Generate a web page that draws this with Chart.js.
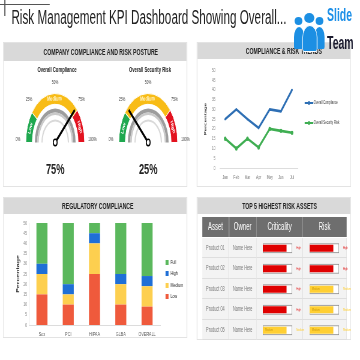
<!DOCTYPE html>
<html>
<head>
<meta charset="utf-8">
<script src="https://cdn.jsdelivr.net/npm/chart.js@4.4.1/dist/chart.umd.min.js"></script>
<style>
  html, body { margin: 0; padding: 0; background: #fff; overflow: hidden; }
  /* the slide is laid out wide and squeezed horizontally, like the source picture */
  #stage { position: absolute; left: 0; top: 0; width: 600px; height: 360px; transform: scaleX(0.6); transform-origin: 0 0;
           font-family: "Liberation Sans", Arial, sans-serif; color: #222; }
  .panel { position: absolute; background: #fff; border: 1px solid #e3e3e3; box-sizing: border-box; }
  .head { position: absolute; left: 0; right: 0; top: 0; background: #d9d9d9; font-weight: bold; font-size: 8.6px; }
  .head span, .lbl { position: absolute; white-space: nowrap; transform: translate(-50%, -50%); }
  .head span { top: 50%; }
  .box { position: absolute; }
  .cell { position: absolute; box-sizing: border-box; display: flex; align-items: center; justify-content: center; white-space: nowrap; }
</style>
</head>
<body>
<div id="stage">
  <div class="box" style="left:0;top:4px;width:83px;height:1px;background:#555"></div>
  <div class="box" style="left:7px;top:0;width:1.7px;height:16px;background:#555"></div>
  <div class="box" style="left:19px;top:6px;font-size:19.5px;white-space:nowrap">Risk Management KPI Dashboard Showing Overall...</div>

  <div class="panel" style="left:5px;top:42px;width:307px;height:145px">
    <div class="head" style="height:18px"><span style="left:162px">COMPANY COMPLIANCE AND RISK POSTURE</span></div>
  </div>
  <div class="panel" style="left:328px;top:42px;width:257px;height:145px">
    <div class="head" style="height:16px"><span style="left:144px">COMPLIANCE &amp; RISK TRENDS</span></div>
  </div>
  <div class="panel" style="left:5px;top:197px;width:307px;height:141px">
    <div class="head" style="height:16px"><span style="left:157px">REGULATORY COMPLIANCE</span></div>
  </div>
  <div class="panel" style="left:328px;top:197px;width:257px;height:143px">
    <div class="head" style="height:16px"><span style="left:137px">TOP 5 HIGHEST RISK ASSETS</span></div>
  </div>

  <!-- logo -->
  <div class="box" style="left:490px;top:27px;width:17px;height:22px;background:#1c8fe3;border-radius:50% 50% 12% 12%/45% 45% 10% 10%"></div>
  <div class="box" style="left:524px;top:27px;width:17px;height:22px;background:#1c8fe3;border-radius:50% 50% 12% 12%/45% 45% 10% 10%"></div>
  <div class="box" style="left:504px;top:25px;width:23px;height:25px;background:#1c8fe3;border:1.5px solid #fff;border-radius:50% 50% 12% 12%/45% 45% 10% 10%"></div>
  <div class="box" style="left:491px;top:17px;width:13px;height:8px;background:#1c8fe3;border-radius:50%"></div>
  <div class="box" style="left:526px;top:17px;width:13px;height:8px;background:#1c8fe3;border-radius:50%"></div>
  <div class="box" style="left:507px;top:13px;width:17px;height:10px;background:#1c8fe3;border-radius:50%"></div>
  <div class="box" style="left:545px;top:5px;font-size:17.5px;font-weight:bold;color:#1e90e8">Slide</div>
  <div class="box" style="left:545px;top:33px;font-size:17.5px;font-weight:bold;color:#1b1b2f">Team</div>

  <div id="gaugeArea"></div>
  <div class="box" style="left:335px;top:60px;width:170px;height:122px"><canvas id="trend"></canvas></div>
  <div id="trendLegend"></div>
  <div class="box" style="left:22px;top:215px;width:250px;height:123px"><canvas id="regulatory"></canvas></div>
  <div id="barLegend"></div>
  <div id="table"></div>
  <div class="box" style="left:437px;top:237.5px;width:75px;height:102.5px"><canvas id="critBars"></canvas></div>
  <div class="box" style="left:515px;top:237.5px;width:70px;height:102.5px"><canvas id="riskBars"></canvas></div>
</div>

<script>
// gauges
const gaugeNames = ['Overall Compliance', 'Overall Security Risk'];
const gaugeValues = [75, 25];
const gaugeBandLabels = ['Low', 'Medium', 'High'];
const gaugeBandSizes = [21, 56, 23];
const gaugeTicks = ['0%', '25%', '50%', '75%', '100%'];

// trends
const months = ['Jan', 'Feb', 'Mar', 'Apr', 'May', 'Jun', 'Jul'];
const overallCompliance = [25, 30, 25, 20.5, 30, 29, 40];
const overallSecurityRisk = [15, 10, 15, 10.5, 20, 19, 18];
const percentTicks = [0, 5, 10, 15, 20, 25, 30, 35, 40, 45, 50];

// regulatory compliance (stacked)
const regulations = ['Sox', 'PCI', 'HIPAA', 'GLBA', 'OVERALL'];
const lowPart = [15, 10, 25, 10, 9];
const mediumPart = [10, 5, 15, 10, 10];
const highPart = [5, 5, 5, 5, 5];
const fullPart = [20, 30, 5, 25, 26];

// top 5 assets
const assets = ['Product 01', 'Product 02', 'Product 03', 'Product 04', 'Product 05'];
const owners = ['Name Here', 'Name Here', 'Name Here', 'Name Here', 'Name Here'];
const criticalityLevel = ['High', 'High', 'High', 'High', 'Medium'];
const criticalityScore = [80, 80, 80, 80, 80];
const riskLevel = ['High', 'High', 'Medium', 'Medium', 'Medium'];
const riskScore = [80, 80, 80, 80, 80];
const scoreMax = 100;

const FONT = '"Liberation Sans", Arial, sans-serif';
Chart.defaults.font.family = FONT;
Chart.defaults.animation = false;

const levelColor = { High: '#e00000', Medium: '#ffcf33' };
const stage = document.getElementById('stage');
function put(parent, html) { parent.insertAdjacentHTML('beforeend', html); }

// ---------- gauges ----------
const gaugePlugin = {
  id: 'gauge',
  afterDatasetsDraw(chart, args, opts) {
    const ctx = chart.ctx;
    const arcs = chart.getDatasetMeta(0).data;
    const { x: cx, y: cy, outerRadius: R, innerRadius: r } = arcs[0];
    // grey inner rings
    [[30, 34, '#9d9d9d'], [27.5, 30, '#cacaca'], [21, 23, '#d9d9d9']].forEach(([a, b, c]) => {
      ctx.beginPath();
      ctx.arc(cx, cy, b, Math.PI, 2 * Math.PI);
      ctx.arc(cx, cy, a, 2 * Math.PI, Math.PI, true);
      ctx.closePath();
      ctx.fillStyle = c;
      ctx.fill();
    });
    // band names
    arcs.forEach((arc, i) => {
      const mid = (arc.startAngle + arc.endAngle) / 2;
      const rr = (R + r) / 2;
      ctx.save();
      ctx.translate(cx + rr * Math.cos(mid), cy + rr * Math.sin(mid));
      ctx.rotate(mid + Math.PI / 2);
      ctx.font = 'bold ' + (i === 1 ? 6.5 : 6) + 'px ' + FONT;
      ctx.fillStyle = i === 1 ? '#fff4c8' : '#ffffff';
      ctx.textAlign = 'center';
      ctx.textBaseline = 'middle';
      ctx.fillText(gaugeBandLabels[i], 0, 0);
      ctx.restore();
    });
    // tick labels
    ctx.font = '5.5px ' + FONT;
    ctx.fillStyle = '#444';
    ctx.textAlign = 'center';
    ctx.textBaseline = 'middle';
    gaugeTicks.forEach((t, i) => {
      const a = Math.PI + Math.PI * i / (gaugeTicks.length - 1);
      ctx.fillText(t, cx + 62 * Math.cos(a), cy + 57 * Math.sin(a) - 3);
    });
    // needle
    const a = Math.PI + Math.PI * opts.value / 100;
    ctx.beginPath();
    ctx.moveTo(cx, cy);
    ctx.lineTo(cx + (R - 3) * Math.cos(a), cy + (R - 3) * Math.sin(a));
    ctx.strokeStyle = '#000';
    ctx.lineWidth = 2.6;
    ctx.stroke();
    ctx.beginPath();
    ctx.arc(cx, cy, 3.2, 0, 2 * Math.PI);
    ctx.fillStyle = '#fff';
    ctx.fill();
    ctx.lineWidth = 1.6;
    ctx.stroke();
  }
};

const gaugeCenters = [92, 247];
const gaugeArea = document.getElementById('gaugeArea');
gaugeNames.forEach((name, i) => {
  const cx = gaugeCenters[i];
  put(gaugeArea, `<div class="lbl" style="left:${cx + 3}px;top:69px;font-size:7px;font-weight:bold">${name}</div>`);
  put(gaugeArea, `<div class="lbl" style="left:${cx}px;top:169px;font-size:15.5px;font-weight:bold">${gaugeValues[i]}%</div>`);
  put(gaugeArea, `<div class="box" style="left:${cx - 78}px;top:70px;width:156px;height:88px"><canvas id="gauge${i}"></canvas></div>`);
});
gaugeNames.forEach((name, i) => {
  new Chart(document.getElementById('gauge' + i), {
    type: 'doughnut',
    data: {
      labels: gaugeBandLabels,
      datasets: [{ data: gaugeBandSizes, backgroundColor: ['#1fa84f', '#f8bc16', '#e3121f'], borderColor: '#fff', borderWidth: 1 }]
    },
    options: {
      responsive: true, maintainAspectRatio: false,
      rotation: -90, circumference: 180, cutout: '78%',
      layout: { padding: { left: 28, right: 28, top: 23, bottom: 15 } },
      plugins: { legend: { display: false }, tooltip: { enabled: false }, gauge: { value: gaugeValues[i] } }
    },
    plugins: [gaugePlugin]
  });
});

// ---------- trend lines ----------
new Chart(document.getElementById('trend'), {
  type: 'line',
  data: {
    labels: months,
    datasets: [
      { label: 'Overall Compliance', data: overallCompliance, borderColor: '#2e6fb4', backgroundColor: '#2e6fb4',
        borderWidth: 2.6, pointRadius: 1.2, pointBorderWidth: 0, tension: 0 },
      { label: 'Overall Security Risk', data: overallSecurityRisk, borderColor: '#3fae52', backgroundColor: '#3fae52',
        borderWidth: 2.6, pointRadius: 2.2, pointBorderWidth: 0, tension: 0 }
    ]
  },
  options: {
    responsive: true, maintainAspectRatio: false,
    layout: { padding: { top: 7, right: 9, left: 0, bottom: 0 } },
    plugins: { legend: { display: false }, tooltip: { enabled: false } },
    scales: {
      x: {
        offset: true,
        grid: { display: false, drawTicks: false },
        border: { color: '#dddddd' },
        ticks: { font: { size: 5.5 }, color: '#777', padding: 6 },
        afterFit(s) { s.height = 14; }
      },
      y: {
        min: 0, max: 50,
        afterBuildTicks(s) { s.ticks = percentTicks.map(v => ({ value: v })); },
        grid: { display: false, drawTicks: false },
        border: { display: false },
        ticks: { font: { size: 5.5 }, color: '#888', padding: 7 },
        title: { display: true, text: 'Percentage', font: { size: 6, weight: 'bold' }, color: '#333', padding: { top: 4, bottom: 0 } },
        afterFit(s) { s.width = 31; }
      }
    }
  }
});
const trendLegend = document.getElementById('trendLegend');
[['Overall Compliance', '#2e6fb4', 103], ['Overall Security Risk', '#3fae52', 123]].forEach(([t, c, y]) => {
  put(trendLegend, `<div class="box" style="left:508px;top:${y - 1}px;width:14px;height:2px;background:${c}"></div>`);
  put(trendLegend, `<div class="box" style="left:513px;top:${y - 2}px;width:4px;height:4px;border-radius:50%;background:${c}"></div>`);
  put(trendLegend, `<div class="box" style="left:523px;top:${y - 3}px;font-size:4.6px;color:#333;white-space:nowrap">${t}</div>`);
});

// ---------- regulatory stacked bars ----------
const partColors = { Low: '#ef5a3c', Medium: '#fdcf4f', High: '#1f6fd6', Full: '#5bb85d' };
new Chart(document.getElementById('regulatory'), {
  type: 'bar',
  data: {
    labels: regulations,
    datasets: [
      { label: 'Low', data: lowPart, backgroundColor: partColors.Low },
      { label: 'Medium', data: mediumPart, backgroundColor: partColors.Medium },
      { label: 'High', data: highPart, backgroundColor: partColors.High },
      { label: 'Full', data: fullPart, backgroundColor: partColors.Full }
    ]
  },
  options: {
    responsive: true, maintainAspectRatio: false,
    datasets: { bar: { barPercentage: 0.42, categoryPercentage: 1 } },
    layout: { padding: { top: 8, right: 5, left: 0, bottom: 0 } },
    plugins: { legend: { display: false }, tooltip: { enabled: false } },
    scales: {
      x: {
        stacked: true,
        grid: { display: false, drawTicks: false },
        border: { color: '#dcdcdc' },
        ticks: { font: { size: 6.2 }, color: '#555', padding: 6 },
        afterFit(s) { s.height = 13; }
      },
      y: {
        stacked: true, min: 0, max: 50,
        afterBuildTicks(s) { s.ticks = percentTicks.map(v => ({ value: v })); },
        grid: { display: false, drawTicks: false },
        border: { color: '#e6e6e6' },
        ticks: { font: { size: 5.5 }, color: '#888', padding: 3 },
        title: { display: true, text: 'Percentage', font: { size: 7, weight: 'bold' }, color: '#333', padding: { top: 4, bottom: 0 } },
        afterFit(s) { s.width = 26; }
      }
    }
  }
});
const barLegend = document.getElementById('barLegend');
[['Full', 262], ['High', 273.5], ['Medium', 285], ['Low', 296.5]].forEach(([t, y]) => {
  put(barLegend, `<div class="box" style="left:276px;top:${y - 2.5}px;width:5px;height:5px;background:${partColors[t]}"></div>`);
  put(barLegend, `<div class="box" style="left:284px;top:${y - 3.5}px;font-size:6px;color:#222">${t}</div>`);
});

// ---------- top 5 assets table ----------
const table = document.getElementById('table');
const colX = [337, 382, 428, 505, 578];
['Asset', 'Owner', 'Criticality', 'Risk'].forEach((h, j) => {
  put(table, `<div class="cell" style="left:${colX[j]}px;top:217px;width:${colX[j + 1] - colX[j]}px;height:19.5px;background:#6e6e6e;color:#fff;font-size:10px;border-right:1px solid #9a9a9a">${h}</div>`);
});
assets.forEach((a, i) => {
  const top = 237.5 + i * 20.5;
  [a, owners[i], '', ''].forEach((txt, j) => {
    put(table, `<div class="cell" style="left:${colX[j]}px;top:${top}px;width:${colX[j + 1] - colX[j]}px;height:20.5px;background:#f3f3f3;border-right:1px solid #dedede;border-bottom:1px solid #dedede;color:#777;font-size:6.4px">${txt}</div>`);
  });
});

const levelPlugin = {
  id: 'levels',
  afterDatasetsDraw(chart, args, opts) {
    const ctx = chart.ctx;
    const meta = chart.getDatasetMeta(0);
    ctx.font = '3.6px ' + FONT;
    ctx.textBaseline = 'middle';
    meta.data.forEach((bar, i) => {
      const lvl = opts.levels[i];
      ctx.fillStyle = levelColor[lvl];
      ctx.fillText(lvl, chart.chartArea.right + opts.gap, bar.y);
      if (lvl === 'Medium') {
        ctx.fillStyle = '#c99a10';
        ctx.fillText('Medium', chart.chartArea.left + 4, bar.y);
      }
    });
  }
};
function scoreBars(id, scores, levels, padRight, gap) {
  new Chart(document.getElementById(id), {
    type: 'bar',
    data: {
      labels: assets,
      datasets: [
        { data: scores, backgroundColor: levels.map(l => levelColor[l]), barThickness: 6.5, grouped: false, order: 0 },
        { data: assets.map(() => scoreMax), backgroundColor: '#fff', borderColor: '#8a8a8a', borderWidth: 1,
          borderSkipped: false, barThickness: 9.5, grouped: false, order: 1 }
      ]
    },
    options: {
      indexAxis: 'y', responsive: true, maintainAspectRatio: false,
      layout: { padding: { left: 1, right: padRight, top: 0, bottom: 0 } },
      plugins: { legend: { display: false }, tooltip: { enabled: false }, levels: { levels, gap } },
      scales: { x: { display: false, min: 0, max: scoreMax }, y: { display: false } }
    },
    plugins: [levelPlugin]
  });
}
scoreBars('critBars', criticalityScore, criticalityLevel, 25, 7);
scoreBars('riskBars', riskScore, riskLevel, 20, 7);
</script>
</body>
</html>
